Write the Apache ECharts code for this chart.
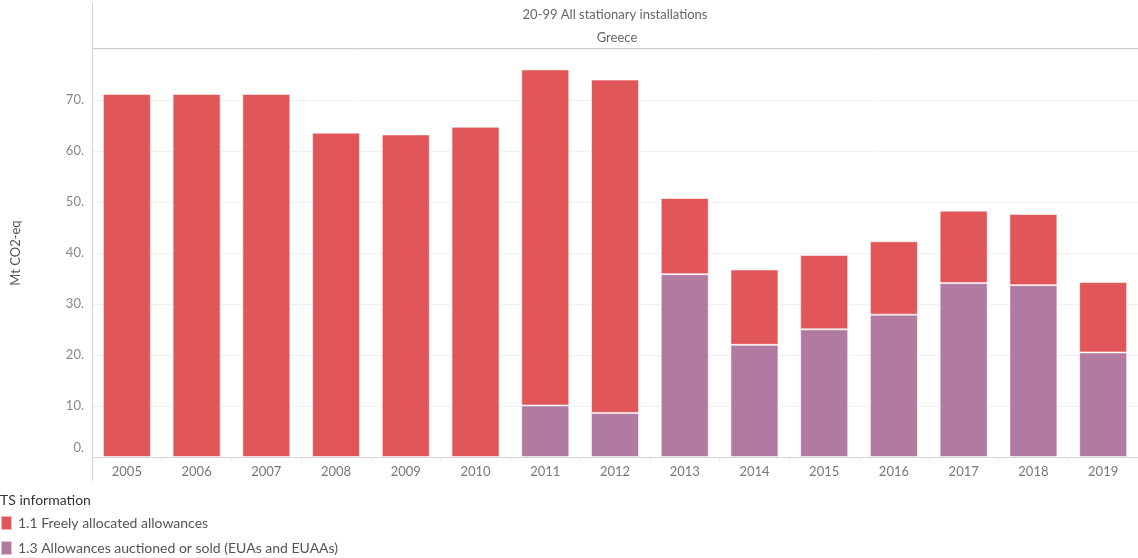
<!DOCTYPE html>
<html>
<head>
<meta charset="utf-8">
<script src="https://cdn.jsdelivr.net/npm/echarts@6/dist/echarts.min.js"></script>
<style>
  html, body { margin: 0; padding: 0; background: #fff; }
  #chart { width: 1138px; height: 558px; }
</style>
</head>
<body>
<div id="chart"></div>
<script>
// years on the x axis
const years = ["2005", "2006", "2007", "2008", "2009", "2010", "2011", "2012",
  "2013", "2014", "2015", "2016", "2017", "2018", "2019"];
// 1.1 Freely allocated allowances (Mt CO2-eq)
const freeAlloc = [71.2, 71.2, 71.2, 63.6, 63.25, 64.75, 65.9, 65.35,
  14.95, 14.77, 14.6, 14.4, 14.2, 13.95, 13.8];
// 1.3 Allowances auctioned or sold (Mt CO2-eq)
const auctioned = [null, null, null, null, null, null, 10.1, 8.65,
  35.85, 22.0, 25.03, 27.9, 34.1, 33.7, 20.5];
const yTicks = [0, 10, 20, 30, 40, 50, 60, 70];

const FONT = "Lato";
const chart = echarts.init(document.getElementById("chart"));

chart.setOption({
  backgroundColor: "#fff",
  animation: false,
  textStyle: { fontFamily: FONT },
  grid: { left: 92, right: 0, top: 49, bottom: 101, containLabel: false },
  legend: {
    orient: "vertical",
    left: 0,
    top: 515,
    padding: 0,
    itemWidth: 11,
    itemHeight: 14,
    itemGap: 9,
    icon: "rect",
    data: ["1.1 Freely allocated allowances", "1.3 Allowances auctioned or sold (EUAs and EUAAs)"],
    textStyle: { color: "#555", fontSize: 14, fontFamily: FONT, padding: [0, 0, 0, 1] }
  },
  xAxis: {
    type: "category",
    data: years,
    axisLine: { lineStyle: { color: "#d4d4d4" } },
    axisTick: { show: true, length: 4, lineStyle: { color: "#e4e4e4" } },
    axisLabel: { color: "#777", fontSize: 13, margin: 8 }
  },
  yAxis: {
    type: "value",
    min: 0,
    max: 80,
    interval: 10,
    name: "Mt CO2-eq",
    nameLocation: "middle",
    nameRotate: 90,
    nameGap: 70,
    nameTextStyle: { color: "#555", fontSize: 13 },
    axisLine: { show: false },
    axisTick: { show: false },
    splitLine: { lineStyle: { color: "#f0f0f0" } },
    axisLabel: {
      color: "#888",
      fontSize: 13,
      margin: 8,
      showMaxLabel: false,
      formatter: function (v) {
        if (yTicks.indexOf(v) < 0) return "";
        return v === 0 ? "{z|" + v + ".}" : v + ".";
      },
      rich: { z: { color: "#888", fontSize: 13, padding: [0, 0, 18, 0] } }
    }
  },
  series: [
    {
      name: "1.3 Allowances auctioned or sold (EUAs and EUAAs)",
      type: "bar",
      stack: "ts",
      data: auctioned,
      barWidth: 48,
      itemStyle: { color: "#b07aa1", borderColor: "rgba(255,255,255,0.55)", borderWidth: 1 }
    },
    {
      name: "1.1 Freely allocated allowances",
      type: "bar",
      stack: "ts",
      data: freeAlloc,
      barWidth: 48,
      itemStyle: { color: "#e15759", borderColor: "rgba(255,255,255,0.55)", borderWidth: 1 }
    }
  ],
  graphic: [
    // header frame
    { type: "line", shape: { x1: 92.5, y1: 3, x2: 92.5, y2: 481 }, style: { stroke: "#d4d4d4", lineWidth: 1 }, z: 10 },
    { type: "line", shape: { x1: 92, y1: 48.5, x2: 1138, y2: 48.5 }, style: { stroke: "#cfcfcf", lineWidth: 1 }, z: 10 },
    { type: "text", x: 615, y: 15, style: { text: "20-99 All stationary installations", fill: "#666", font: "13px " + FONT, textAlign: "center", textVerticalAlign: "middle" } },
    { type: "text", x: 617, y: 38, style: { text: "Greece", fill: "#666", font: "13px " + FONT, textAlign: "center", textVerticalAlign: "middle" } },
    { type: "text", x: 0, y: 500, style: { text: "TS information", fill: "#333", font: "14px " + FONT, textVerticalAlign: "middle" } }
  ]
});
</script>
</body>
</html>
